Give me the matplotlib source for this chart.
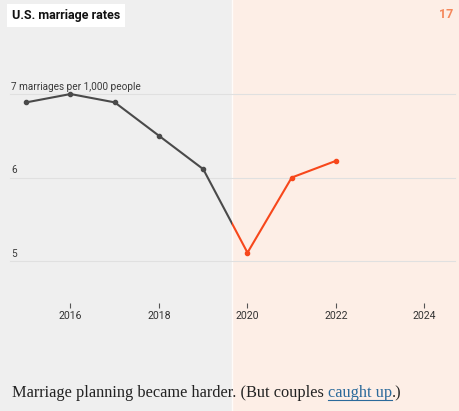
import matplotlib.pyplot as plt
from matplotlib.patches import Rectangle
import matplotlib.transforms as mtransforms

years = [2015, 2016, 2017, 2018, 2019, 2020, 2021, 2022]
rates = [6.9, 7.0, 6.9, 6.5, 6.1, 5.1, 6.0, 6.2]
tick_years = [2016, 2018, 2020, 2022, 2024]
grid_values = [7, 6, 5]
grid_labels = ['7 marriages per 1,000 people', '6', '5']
split_year = 2019.65

gray_bg = '#efefef'
peach_bg = '#fdeee6'
line_gray = '#4a4a4a'
line_red = '#f7471b'

fig = plt.figure(figsize=(4.59, 4.11), dpi=100)
ax = fig.add_axes([0, 0, 1, 1])
ax.set_xlim(2014.407, 2024.78)
ax.set_ylim(3.204, 8.126)
ax.set_facecolor(gray_bg)

# background panels
ax.axvspan(split_year, 2030, color=peach_bg, zorder=0)
ax.axvline(split_year, color='white', lw=1, alpha=0.8, zorder=0.5)

# gridlines and labels
for v, lab in zip(grid_values, grid_labels):
    ax.axhline(v, xmin=10 / 459, xmax=455 / 459, color='#e0e0e0', lw=0.8, zorder=1)
    ax.text(11 / 459, v + 0.025, lab, transform=mtransforms.blended_transform_factory(ax.transAxes, ax.transData),
            fontsize=7.2, color='#3a3a3a', ha='left', va='bottom', family='Roboto')

# line, split into gray before the shading and red after
left_clip = Rectangle((2000, 0), split_year - 2000, 20, transform=ax.transData)
right_clip = Rectangle((split_year, 0), 30, 20, transform=ax.transData)
l1, = ax.plot(years, rates, color=line_gray, lw=1.5, marker='o', ms=3, zorder=3)
l1.set_clip_path(left_clip)
l2, = ax.plot(years, rates, color=line_red, lw=1.5, marker='o', ms=3, zorder=3)
l2.set_clip_path(right_clip)

# x axis ticks sitting inside the figure
ax.spines[['top', 'right', 'left']].set_visible(False)
ax.spines['bottom'].set_position(('data', 4.497))
ax.spines['bottom'].set_visible(False)
ax.set_yticks([])
ax.set_xticks(tick_years)
ax.set_xticklabels([str(y) for y in tick_years], fontsize=7.6, color='#333333', family='Roboto')
ax.tick_params(axis='x', direction='out', length=3.5, width=0.8, color='#555555', pad=2)

# title and counter
fig.text(12 / 459, 1 - 16 / 411, 'U.S. marriage rates', fontsize=9, fontweight='bold', color='#111111',
         ha='left', va='center', family='Roboto',
         bbox=dict(facecolor='white', edgecolor='none', boxstyle='square,pad=0.4'))
fig.text(453 / 459, 1 - 15 / 411, '17', fontsize=9, fontweight='bold', color='#f5875a', ha='right', va='center',
         family='Roboto')

# caption
fs = 11.8
cap = fig.text(12 / 459, 1 - 393 / 411, 'Marriage planning became harder. (But couples ', fontsize=fs,
               family='Liberation Serif', color='#222222', ha='left', va='center')
fig.canvas.draw()
bb = cap.get_window_extent()
link = fig.text(bb.x1 / 459, 1 - 393 / 411, 'caught up', fontsize=fs, family='Liberation Serif',
                color='#2b6a9b', ha='left', va='center')
fig.canvas.draw()
bb2 = link.get_window_extent()
fig.add_artist(plt.Line2D([bb2.x0 / 459, bb2.x1 / 459], [bb2.y0 / 411 + 1.5 / 411] * 2, color='#2b6a9b', lw=0.8))
fig.text(bb2.x1 / 459, 1 - 393 / 411, '.)', fontsize=fs, family='Liberation Serif', color='#222222',
         ha='left', va='center')

fig.savefig('out.png', dpi=100, facecolor=gray_bg)
